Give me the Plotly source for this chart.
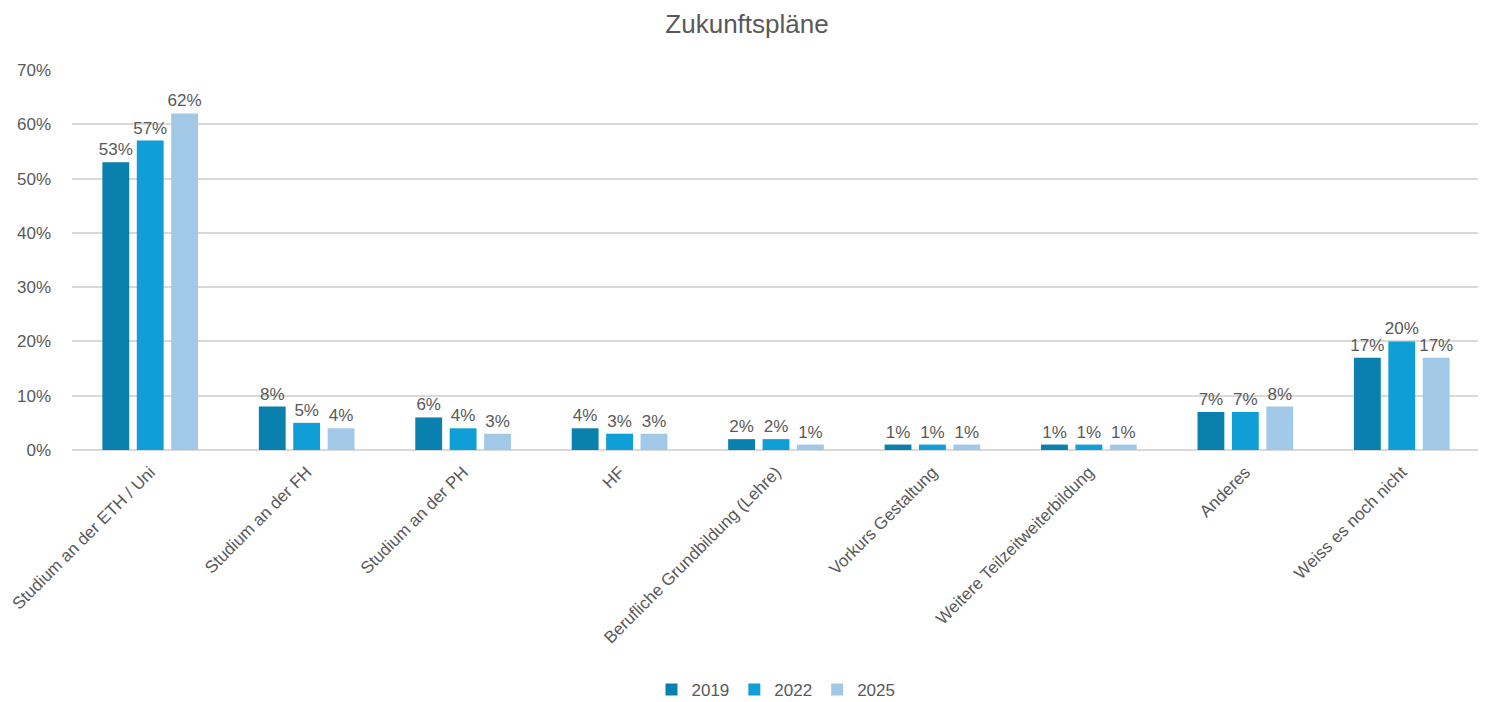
import plotly.graph_objects as go

categories = ["Studium an der ETH / Uni", "Studium an der FH", "Studium an der PH", "HF",
              "Berufliche Grundbildung (Lehre)", "Vorkurs Gestaltung",
              "Weitere Teilzeitweiterbildung", "Anderes", "Weiss es noch nicht"]
years = ["2019", "2022", "2025"]
v2019 = [0.53, 0.08, 0.06, 0.04, 0.02, 0.01, 0.01, 0.07, 0.17]
v2022 = [0.57, 0.05, 0.04, 0.03, 0.02, 0.01, 0.01, 0.07, 0.20]
v2025 = [0.62, 0.04, 0.03, 0.03, 0.01, 0.01, 0.01, 0.08, 0.17]
series = [v2019, v2022, v2025]
colors = ["#0A80AE", "#109ED6", "#A2C8E7"]
y_ticks = [0, 0.1, 0.2, 0.3, 0.4, 0.5, 0.6, 0.7]

W, H = 1478, 694  # page body has an 8px margin
fig = go.Figure()
for name, vals, col in zip(years, series, colors):
    fig.add_trace(go.Bar(
        name=name, x=categories, y=vals, marker_color=col, marker_line_width=0,
        text=[f"{round(v*100)}%" for v in vals], textposition="outside",
        textfont=dict(size=17, color="#595959"), cliponaxis=False, constraintext="none",
    ))

fig.update_layout(
    width=W, height=H,
    paper_bgcolor="white", plot_bgcolor="white",
    font=dict(family="Liberation Sans, Arial, sans-serif", color="#595959"),
    title=dict(text="Zukunftspläne", x=0.5, xanchor="center", y=1 - 16/H, yanchor="middle",
               font=dict(size=26, color="#595959"), automargin=False),
    barmode="group", bargap=0.34, bargroupgap=0.22,
    uniformtext=dict(minsize=17, mode="show"),
    margin=dict(l=64, r=6, t=62, b=252, autoexpand=False),
    legend=dict(orientation="h", x=0.5, xanchor="center", y=-(682-442)/380, yanchor="middle",
                font=dict(size=17, color="#595959"), itemwidth=30, traceorder="normal"),
    showlegend=True,
)
fig.update_xaxes(tickangle=-45, tickfont=dict(size=17, color="#595959"),
                 showline=False, ticks="", automargin=False, ticklabelstandoff=8)
fig.update_yaxes(range=[0, 0.7001], tickvals=y_ticks, tickformat=".0%",
                 tickfont=dict(size=17, color="#595959"), automargin=False,
                 gridcolor="#D9D9D9", gridwidth=1.5, zeroline=True,
                 zerolinecolor="#D9D9D9", zerolinewidth=1.5, ticks="", ticklabelstandoff=20)

fig.write_html("out.html")
